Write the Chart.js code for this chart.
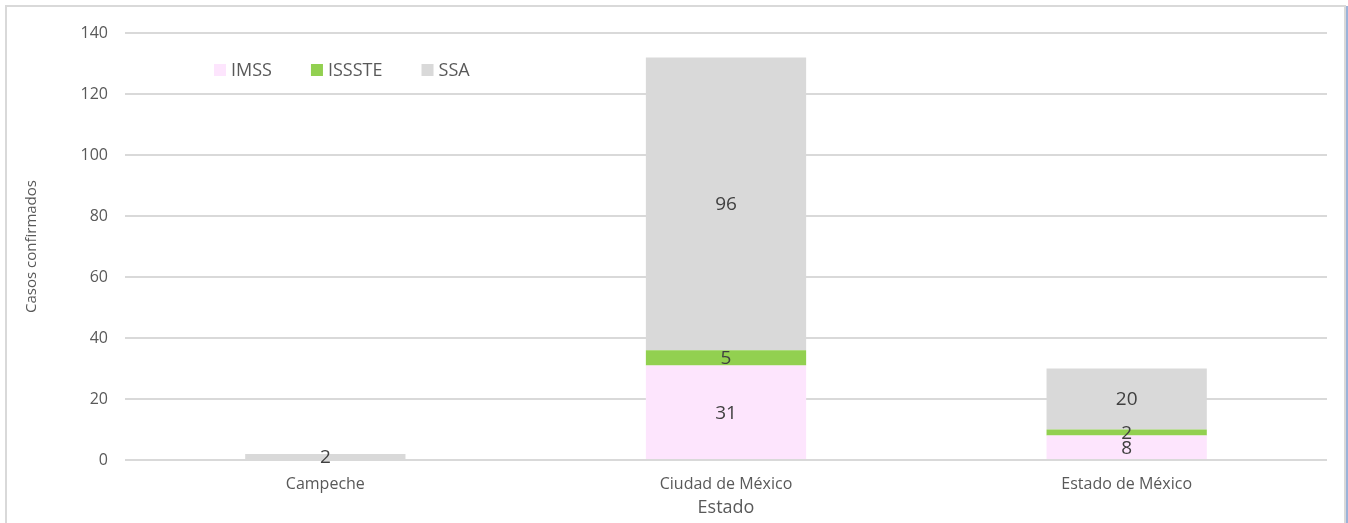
<!DOCTYPE html>
<html lang="es">
<head>
<meta charset="utf-8">
<title>Casos confirmados por estado</title>
<script src="https://cdn.jsdelivr.net/npm/chart.js@4.4.1/dist/chart.umd.min.js"></script>
<style>
  html, body { margin: 0; padding: 0; background: #fff; overflow: hidden; }
  #wrap { position: absolute; left: 0; top: 0; width: 1348px; height: 523px; }
  #frame {
    position: absolute; left: 5px; top: 5px; width: 1337px; height: 600px;
    border: 2px solid #d9d9d9; pointer-events: none;
    box-shadow: 3px 0 0 -1px #9bb3d9;
  }
</style>
</head>
<body>
<div id="wrap"><canvas id="chart"></canvas></div>
<div id="frame"></div>
<script>
  const estados = ['Campeche', 'Ciudad de México', 'Estado de México'];
  const imss   = [0, 31, 8];
  const issste = [0, 5, 2];
  const ssa    = [2, 96, 20];
  const yTicks = [0, 20, 40, 60, 80, 100, 120, 140];

  const FONT = "'Open Sans', 'DejaVu Sans', sans-serif";

  // etiquetas de valor centradas en cada segmento
  const valueLabels = {
    id: 'valueLabels',
    afterDatasetsDraw(chart) {
      const ctx = chart.ctx;
      ctx.save();
      ctx.font = '19px ' + FONT;
      ctx.fillStyle = '#404040';
      ctx.textAlign = 'center';
      ctx.textBaseline = 'middle';
      chart.data.datasets.forEach((ds, i) => {
        const meta = chart.getDatasetMeta(i);
        meta.data.forEach((bar, j) => {
          const v = ds.data[j];
          if (!v) return;
          ctx.fillText(String(v), bar.x, (bar.y + bar.base) / 2 + 1);
        });
      });
      ctx.restore();
    }
  };

  // leyenda dentro del área de trazado, arriba a la izquierda
  const innerLegend = {
    id: 'innerLegend',
    afterDraw(chart) {
      const ctx = chart.ctx;
      const area = chart.chartArea;
      let x = area.left + 89;
      const y = area.top + 37;
      ctx.save();
      ctx.font = '18px ' + FONT;
      ctx.textBaseline = 'middle';
      ctx.textAlign = 'left';
      chart.data.datasets.forEach(ds => {
        ctx.fillStyle = ds.backgroundColor;
        ctx.fillRect(x, y - 6, 12, 12);
        ctx.fillStyle = '#595959';
        ctx.fillText(ds.label, x + 17, y + 1);
        x += 17 + ctx.measureText(ds.label).width + 39;
      });
      ctx.restore();
    }
  };

  new Chart(document.getElementById('chart'), {
    type: 'bar',
    data: {
      labels: estados,
      datasets: [
        { label: 'IMSS',   data: imss,   backgroundColor: '#fde5fd' },
        { label: 'ISSSTE', data: issste, backgroundColor: '#92d050' },
        { label: 'SSA',    data: ssa,    backgroundColor: '#d9d9d9' }
      ]
    },
    options: {
      responsive: true,
      maintainAspectRatio: false,
      animation: false,
      layout: { padding: { left: 18, right: 21, top: 33, bottom: 0 } },
      datasets: { bar: { categoryPercentage: 1, barPercentage: 0.4 } },
      plugins: { legend: { display: false }, tooltip: { enabled: false } },
      scales: {
        x: {
          stacked: true,
          grid: { display: false },
          border: { display: false },
          ticks: { color: '#595959', font: { family: FONT, size: 16 }, padding: 7, maxRotation: 0 },
          title: { display: true, text: 'Estado', color: '#595959', font: { family: FONT, size: 18 }, padding: { top: 0, bottom: 4 } },
          afterFit: s => { s.height = 63; }
        },
        y: {
          stacked: true,
          min: 0, max: 140,
          afterBuildTicks: s => { s.ticks = yTicks.map(v => ({ value: v })); },
          grid: { color: '#d9d9d9', lineWidth: 2, drawTicks: false },
          border: { display: false },
          ticks: { color: '#595959', font: { family: FONT, size: 16 }, padding: 17 },
          title: { display: true, text: 'Casos confirmados', color: '#595959', font: { family: FONT, size: 15 }, padding: { top: 5, bottom: 0 } },
          afterFit: s => { s.width = 107; }
        }
      }
    },
    plugins: [valueLabels, innerLegend]
  });
</script>
</body>
</html>
